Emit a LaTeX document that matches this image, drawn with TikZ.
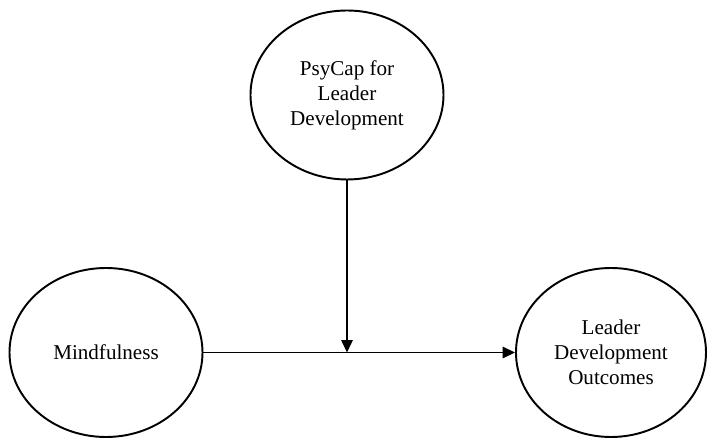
\documentclass[tikz,border=0pt]{standalone}
\usepackage{fontspec}
\setmainfont{Liberation Serif}
\usetikzlibrary{shapes.geometric,arrows.meta,calc}
\tikzset{
  >={Triangle[length=7pt,width=6.5pt]},
}
\tikzstyle{construct}=[ellipse,draw,line width=1.1pt,inner sep=0pt,
  minimum width=3.86cm,minimum height=3.38cm,align=center,
  font=\fontsize{12}{14.2}\selectfont]
\tikzstyle{path}=[line width=0.7pt,->]

\begin{document}
\begin{tikzpicture}
    \useasboundingbox (0,0) rectangle (14.2,-8.76);
    \node[construct] (psycap) at (6.94,-1.9) {PsyCap for\\Leader\\Development};
    \node[construct] (mind) at (2.12,-7.05) {Mindfulness};
    \node[construct,minimum width=3.8cm] (outcome) at (12.22,-7.05) {Leader\\Development\\Outcomes};
    \coordinate (moderate) at (psycap.south |- mind.east);
    \draw[path] (mind.east) -- (outcome.west);
    \draw[path] (psycap.south) -- (moderate);
  \end{tikzpicture}
\end{document}
